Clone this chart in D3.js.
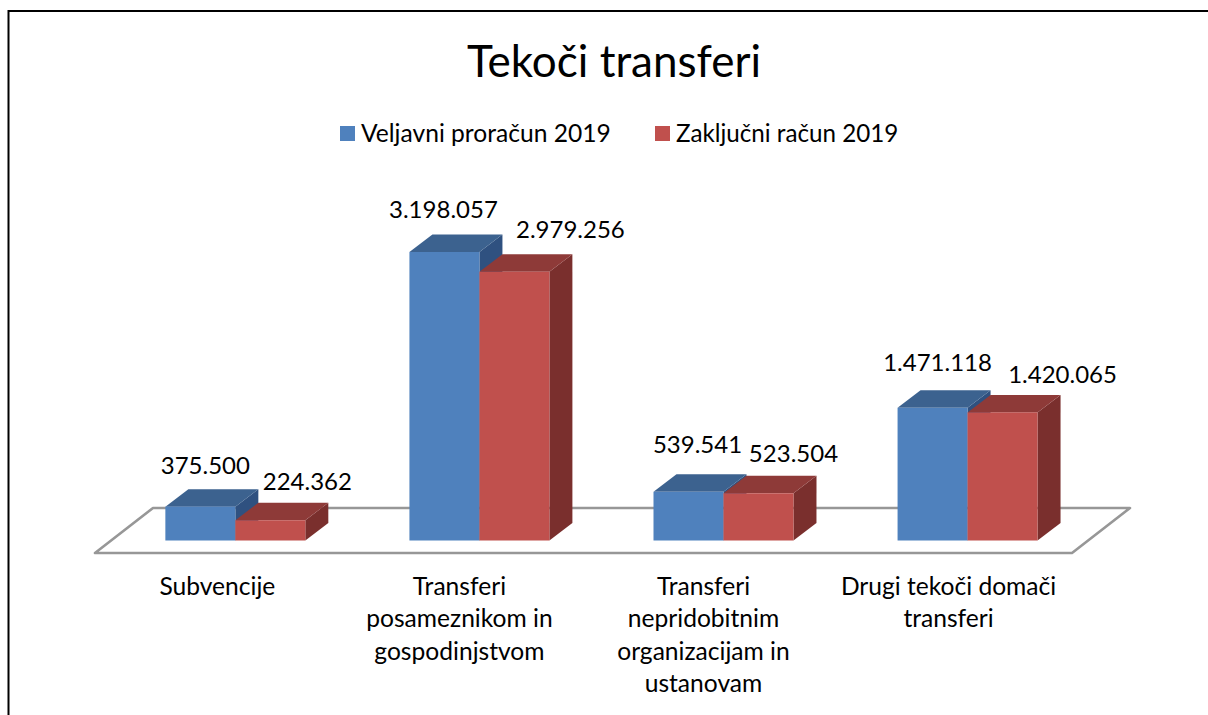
<!DOCTYPE html>
<html><head><meta charset="utf-8">
<script src="https://cdn.jsdelivr.net/npm/d3@7/dist/d3.min.js"></script>
<style>html,body{margin:0;padding:0;background:#fff}svg{display:block}text{font-family:Lato,Carlito,"Open Sans",sans-serif;fill:#000}</style>
</head><body><svg id="c" width="1208" height="715"></svg>
<script>
const titleText = "Tekoči transferi";
const categories = ["Subvencije","Transferi posameznikom in gospodinjstvom","Transferi nepridobitnim organizacijam in ustanovam","Drugi tekoči domači transferi"];
const categoryLines = [["Subvencije"],["Transferi","posameznikom in","gospodinjstvom"],["Transferi","nepridobitnim","organizacijam in","ustanovam"],["Drugi tekoči domači","transferi"]];
const seriesNames = ["Veljavni proračun 2019","Zaključni račun 2019"];
const budget2019 = [375500,3198057,539541,1471118];
const final2019 = [224362,2979256,523504,1420065];
const seriesValues = [budget2019,final2019];

// layout only
const W=1208,H=715, baseY=540.5, depthX=23, depthY=17.5;
const fill=["#4F81BD","#C0504D"], topFill=["#3C628F","#8E3A38"], sideFill=["#2F5180","#7A2F2D"];
const labelNudge=[[[5,-33],[37,-30]],[[-1,-34],[56,-34]],[[9,-39],[35,-31]],[[5,-37],[60,-29]]];
const catNudge=[-18,-20,-20,-19];

const svg=d3.select("#c");
const fmt=d3.formatLocale({decimal:",",thousands:".",grouping:[3],currency:["",""]}).format(",d");
const x0=d3.scaleBand().domain(categories).range([113.3,1089.6]).paddingInner(0.4265).paddingOuter(0.2133);
const x1=d3.scaleBand().domain(d3.range(seriesNames.length)).range([0,x0.bandwidth()]);
const y=d3.scaleLinear().domain([0,3198057]).range([baseY,252]);

// frame
svg.append("path").attr("d",`M8.5,${H}V11H${W}`).attr("fill","none").attr("stroke","#000").attr("stroke-width",2);

// title
svg.append("text").attr("x",614).attr("y",76.5).attr("text-anchor","middle").attr("font-size",44).text(titleText);

// legend
const lg=svg.selectAll("g.lg").data(seriesNames).join("g").attr("class","lg").attr("transform",(d,i)=>`translate(${[340,655][i]},126)`);
lg.append("rect").attr("width",15).attr("height",15).attr("fill",(d,i)=>fill[i]);
lg.append("text").attr("x",21).attr("y",16).attr("font-size",(d,i)=>[24.6,24.2][i]).text(d=>d);

// floor
const fx0=95,fx1=1072,fdx=58,fdy=45,fy=553;
svg.append("path").attr("d",`M${fx0},${fy}H${fx1}L${fx1+fdx},${fy-fdy}H${fx0+fdx}Z`).attr("fill","none").attr("stroke","#979797").attr("stroke-width",2.6).attr("stroke-linejoin","round");

// bars
const groups=svg.selectAll("g.grp").data(categories).join("g").attr("class","grp").attr("transform",d=>`translate(${x0(d)},0)`);
groups.each(function(cat,ci){
  const g=d3.select(this);
  seriesValues.forEach((vals,si)=>{
    const v=vals[ci], xL=x1(si), w=x1.bandwidth(), t=y(v);
    const b=g.append("g");
    b.append("path").attr("d",`M${xL+w},${t}l${depthX},${-depthY}V${baseY-depthY}l${-depthX},${depthY}Z`).attr("fill",sideFill[si]);
    b.append("path").attr("d",`M${xL},${t}l${depthX},${-depthY}h${w}l${-depthX},${depthY}Z`).attr("fill",topFill[si]);
    b.append("rect").attr("x",xL).attr("y",t).attr("width",w).attr("height",baseY-t).attr("fill",fill[si]);
  });
  seriesValues.forEach((vals,si)=>{
    const v=vals[ci], n=labelNudge[ci][si];
    g.append("text").attr("x",x1(si)+x1.bandwidth()/2+n[0]).attr("y",y(v)+n[1]).attr("text-anchor","middle").attr("font-size",24).text(fmt(v));
  });
});

// category axis
const axis=svg.append("g").attr("transform",`translate(0,${baseY})`).call(d3.axisBottom(x0).tickSize(0).tickFormat(""));
axis.select(".domain").remove();
axis.selectAll(".tick").each(function(d,i){
  const t=d3.select(this);
  t.select("text").remove();
  const tx=t.append("text").attr("text-anchor","middle").attr("font-size",24.6).attr("x",catNudge[i]).attr("y",54.5).attr("font-family",null).attr("fill","#000");
  categoryLines[i].forEach((l,k)=>tx.append("tspan").attr("x",catNudge[i]).attr("y",54.5+k*32.3).text(l));
});
</script></body></html>
